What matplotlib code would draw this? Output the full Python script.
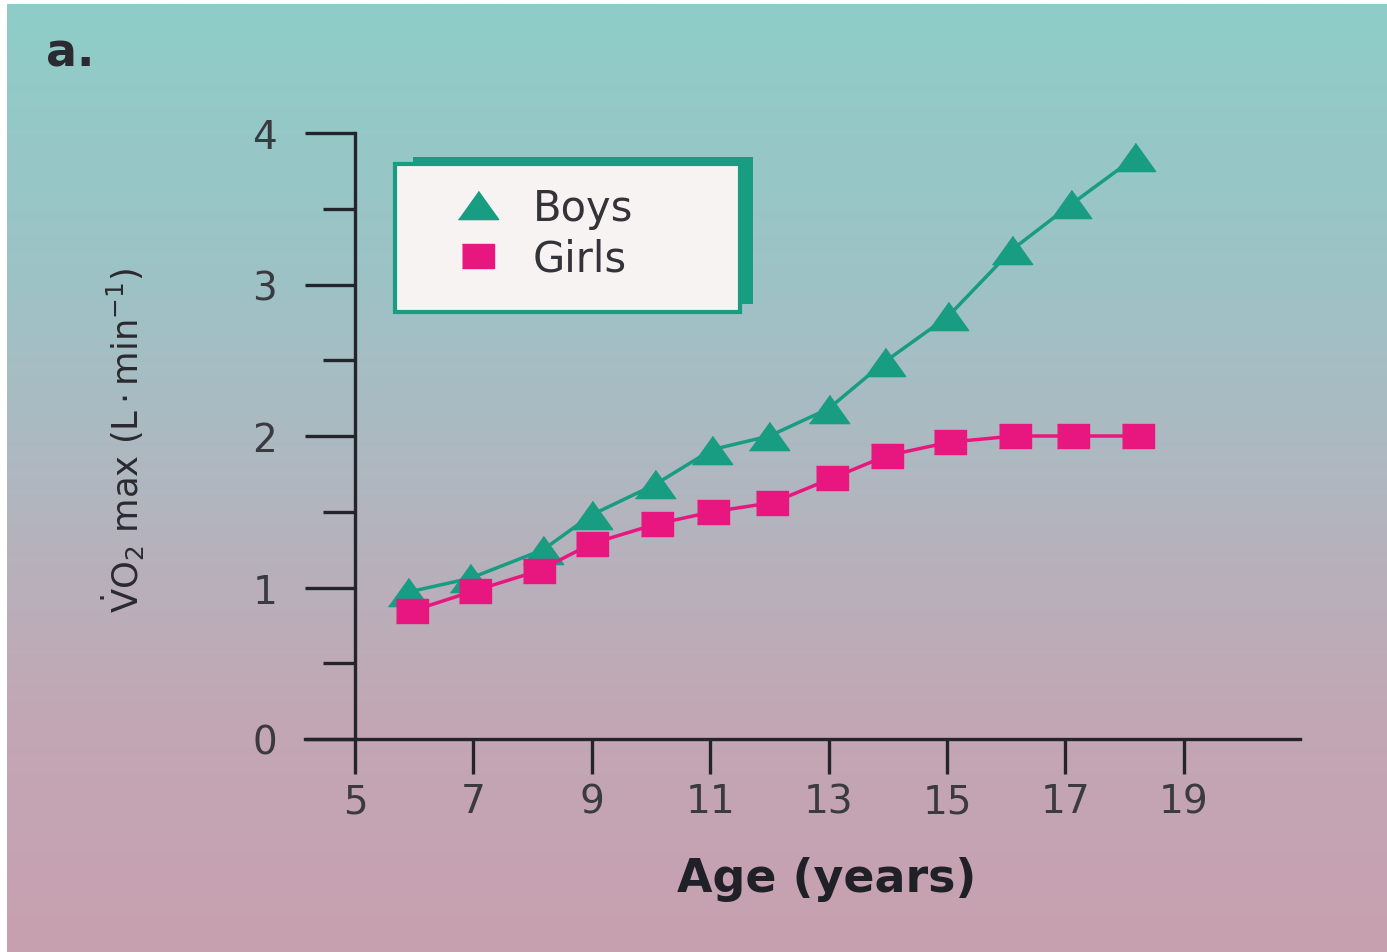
import numpy as np
import matplotlib
matplotlib.use('Agg')
import matplotlib.pyplot as plt
from matplotlib.patches import Rectangle
from matplotlib.lines import Line2D
from matplotlib.ticker import MultipleLocator

# VO2 max vs age
boys_age = [5.9, 6.94, 8.18, 9.0, 10.07, 11.03, 12.0, 13.0, 13.95, 15.02, 16.1, 17.1, 18.18]
boys_vo2 = [0.97, 1.06, 1.25, 1.48, 1.68, 1.91, 2.0, 2.18, 2.49, 2.79, 3.23, 3.53, 3.84]
girls_age = [5.96, 7.03, 8.1, 9.0, 10.1, 11.04, 12.05, 13.05, 13.98, 15.05, 16.15, 17.13, 18.22]
girls_vo2 = [0.845, 0.98, 1.11, 1.29, 1.42, 1.50, 1.56, 1.72, 1.87, 1.96, 2.0, 2.0, 2.0]
x_ticks = [5, 7, 9, 11, 13, 15, 17, 19]
y_ticks = [0, 1, 2, 3, 4]

TEAL = '#189c82'
PINK = '#e8177f'
INK = '#24242c'

plt.rcParams['font.family'] = ['DejaVu Sans']
plt.rcParams['mathtext.fontset'] = 'dejavusans'

W, H = 1387, 953
fig = plt.figure(figsize=(W / 100, H / 100), dpi=100)
fig.patch.set_facecolor('white')

# gradient backdrop, teal at top fading to mauve at bottom
bg = fig.add_axes([7 / W, 0, 1 - 7 / W, 1 - 5 / H])
stops = np.array([0.0, 0.3, 0.5, 0.75, 1.0])
cols = np.array([[142, 205, 200], [158, 194, 198], [176, 183, 192],
                 [194, 167, 180], [200, 160, 176]]) / 255.0
t = np.linspace(0, 1, 400)
grad = np.stack([np.interp(t, stops, cols[:, i]) for i in range(3)], axis=1)
bg.imshow(grad[:, None, :], aspect='auto', extent=[0, 1, 1, 0])
bg.set_axis_off()

# main plot area
ax = fig.add_axes([305 / W, (H - 740) / H, 995 / W, 606 / H])
ax.patch.set_alpha(0)
ax.set_xlim(5 - 50 / 59.2, 5 + 945 / 59.2)
ax.set_ylim(0, 4)

tri = [(-1, -0.7), (1, -0.7), (0, 0.7)]
sq = [(-1, -0.78), (1, -0.78), (1, 0.78), (-1, 0.78)]

ax.plot(boys_age, boys_vo2, color=TEAL, lw=2.5, marker=tri, ms=29,
        mfc=TEAL, mec=TEAL, clip_on=False, zorder=3)
ax.plot(girls_age, girls_vo2, color=PINK, lw=2.5, marker=sq, ms=23,
        mfc=PINK, mec=PINK, clip_on=False, zorder=4)

for s in ['top', 'right']:
    ax.spines[s].set_visible(False)
ax.spines['left'].set_position(('data', 5))
ax.spines['bottom'].set_position(('data', 0))
ax.spines['left'].set_bounds(0, 4)
for s in ['left', 'bottom']:
    ax.spines[s].set_linewidth(2.4)
    ax.spines[s].set_color(INK)

ax.set_xticks(x_ticks)
ax.set_yticks(y_ticks)
ax.yaxis.set_minor_locator(MultipleLocator(0.5))
ax.tick_params(axis='y', which='major', direction='out', length=36, width=2.4,
               color=INK, pad=20, labelsize=28, labelcolor='#3a3a40')
ax.tick_params(axis='y', which='minor', direction='out', length=23, width=2.4, color=INK)
ax.tick_params(axis='x', which='major', direction='out', length=25, width=2.4,
               color=INK, pad=6, labelsize=28, labelcolor='#3a3a40')

ax.set_xlabel('Age (years)', fontsize=33, fontweight='bold', color='#202028')
ax.xaxis.set_label_coords((827 - 305) / 995, (740 - 857) / 606)
ax.set_ylabel(r'$\dot{\mathrm{V}}\mathrm{O}_2\ \mathrm{max}\ (\mathrm{L\cdot min^{-1}})$',
              fontsize=25.5, color='#2a2a30')
ax.yaxis.set_label_coords((147 - 305) / 995, (740 - 440) / 606)

fig.text(46 / W, 1 - 54 / H, 'a.', fontsize=33, fontweight='bold',
         color='#2a2a30', ha='left', va='center')

# legend box with offset teal shadow
ax.add_patch(Rectangle((0.1085, 0.7178), 0.3418, 0.2426, transform=ax.transAxes,
                       facecolor=TEAL, edgecolor='none', zorder=5, clip_on=False))
ax.add_patch(Rectangle((0.0905, 0.7046), 0.3467, 0.2442, transform=ax.transAxes,
                       facecolor='#f7f3f3', edgecolor=TEAL, lw=3, zorder=5.1,
                       clip_on=False))
handles = [Line2D([], [], ls='none', marker=tri, ms=29, color=TEAL),
           Line2D([], [], ls='none', marker=sq, ms=23, color=PINK)]
leg = ax.legend(handles, ['Boys', 'Girls'], loc='upper left',
                bbox_to_anchor=((447 - 305) / 995, (740 - 188) / 606),
                frameon=False, fontsize=30, borderpad=0, borderaxespad=0,
                handlelength=1.5, handletextpad=0.55, labelspacing=0.2)
leg.set_zorder(6)
for txt in leg.get_texts():
    txt.set_color('#333338')

fig.savefig('out.png', dpi=100)
